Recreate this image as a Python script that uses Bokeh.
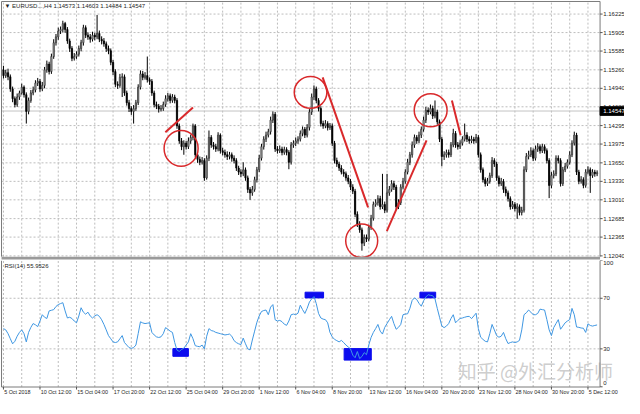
from bokeh.plotting import figure
from bokeh.layouts import column
from bokeh.models import Range1d, Label, ColumnDataSource
from bokeh.core.properties import value
from bokeh.embed import file_html
from bokeh.resources import INLINE

# ---------------- data (EURUSD H4) ----------------
first_open = 1.1526
closes = [
    1.1516, 1.1521, 1.1514, 1.1493, 1.1476, 1.1466, 1.1479, 1.1486, 1.1496, 1.1483,
    1.1454, 1.1473, 1.1486, 1.1491, 1.1503, 1.1506, 1.1493, 1.1499, 1.1526, 1.1536,
    1.1523, 1.1549, 1.1573, 1.1583, 1.1593, 1.1596, 1.1606, 1.1596, 1.1576, 1.1563,
    1.1546, 1.1549, 1.1553, 1.1563, 1.1573, 1.1599, 1.1586, 1.1583, 1.1579, 1.1586,
    1.1583, 1.1589, 1.1579, 1.1576, 1.1571, 1.1563, 1.1559, 1.1539, 1.1523, 1.1501,
    1.1499, 1.1513, 1.1514, 1.1486, 1.1469, 1.1459, 1.1454, 1.1459, 1.1469, 1.1496,
    1.1519, 1.1513, 1.1516, 1.1509, 1.1506, 1.1486, 1.1466, 1.1463, 1.1458, 1.1459,
    1.1466, 1.1476, 1.1481, 1.1473, 1.1479, 1.1473, 1.1429, 1.1403, 1.1393, 1.1399,
    1.1393, 1.1403, 1.1409, 1.1429, 1.1379, 1.1371, 1.1366, 1.1369, 1.1339, 1.1373,
    1.1409, 1.1396, 1.1393, 1.1389, 1.1413, 1.1386, 1.1383, 1.1379, 1.1376, 1.1379,
    1.1373, 1.1369, 1.1356, 1.1349, 1.1346, 1.1353, 1.1339, 1.1319, 1.1313, 1.1319,
    1.1336, 1.1353, 1.1373, 1.1393, 1.1406, 1.1413, 1.1419, 1.1439, 1.1449, 1.1389,
    1.1386, 1.1389, 1.1383, 1.1388, 1.1383, 1.1366, 1.1396, 1.1399, 1.1403, 1.1406,
    1.1416, 1.1423, 1.1413, 1.1426, 1.1453, 1.1479, 1.1493, 1.1473, 1.1459, 1.1433,
    1.1429, 1.1433, 1.1426, 1.1429, 1.1399, 1.1369, 1.1363, 1.1356, 1.1349, 1.1346,
    1.1339, 1.1333, 1.1323, 1.1316, 1.1276, 1.1259, 1.1249, 1.1226, 1.1236, 1.1233,
    1.1253, 1.1269, 1.1293, 1.1296, 1.1303, 1.1289, 1.1293, 1.1283, 1.1313, 1.1319,
    1.1329, 1.1323, 1.1289, 1.1296, 1.1323, 1.1333, 1.1349, 1.1366, 1.1379, 1.1396,
    1.1409, 1.1403, 1.1413, 1.1423, 1.1439, 1.1456, 1.1453, 1.1459, 1.1446, 1.1453,
    1.1436, 1.1406, 1.1376, 1.1379, 1.1383, 1.1379, 1.1396, 1.1416, 1.1396, 1.1393,
    1.1399, 1.1406, 1.1413, 1.1406, 1.1403, 1.1406, 1.1403, 1.1409, 1.1379, 1.1353,
    1.1336, 1.1329, 1.1333, 1.1343, 1.1369, 1.1363, 1.1339, 1.1329, 1.1333, 1.1319,
    1.1313, 1.1303, 1.1289, 1.1293, 1.1286, 1.1289, 1.1279, 1.1283, 1.1353, 1.1376,
    1.1379, 1.1386, 1.1373, 1.1389, 1.1393, 1.1386, 1.1393, 1.1386, 1.1369, 1.1326,
    1.1343, 1.1346, 1.1373, 1.1369, 1.1329, 1.1353, 1.1359, 1.1366, 1.1379, 1.1399,
    1.1413, 1.1349, 1.1333, 1.1336, 1.1326, 1.1349, 1.1353, 1.1343, 1.1349, 1.1346,
    1.1348]
highs = [
    1.1533, 1.1526, 1.1528, 1.1518, 1.1497, 1.1480, 1.1485, 1.1490, 1.1502, 1.1499,
    1.1487, 1.1478, 1.1491, 1.1497, 1.1508, 1.1512, 1.1510, 1.1505, 1.1531, 1.1542,
    1.1540, 1.1554, 1.1579, 1.1588, 1.1599, 1.1601, 1.1611, 1.1609, 1.1600, 1.1580,
    1.1567, 1.1555, 1.1558, 1.1568, 1.1578, 1.1604, 1.1603, 1.1591, 1.1588, 1.1592,
    1.1590, 1.1621, 1.1594, 1.1584, 1.1581, 1.1575, 1.1568, 1.1563, 1.1543, 1.1527,
    1.1506, 1.1519, 1.1520, 1.1518, 1.1490, 1.1474, 1.1463, 1.1465, 1.1474, 1.1501,
    1.1525, 1.1524, 1.1522, 1.1549, 1.1513, 1.1510, 1.1490, 1.1471, 1.1467, 1.1465,
    1.1471, 1.1482, 1.1486, 1.1485, 1.1484, 1.1483, 1.1477, 1.1433, 1.1408, 1.1404,
    1.1403, 1.1409, 1.1414, 1.1433, 1.1432, 1.1384, 1.1376, 1.1375, 1.1373, 1.1378,
    1.1421, 1.1413, 1.1401, 1.1398, 1.1418, 1.1416, 1.1391, 1.1388, 1.1385, 1.1384,
    1.1383, 1.1378, 1.1373, 1.1360, 1.1354, 1.1366, 1.1357, 1.1343, 1.1323, 1.1325,
    1.1341, 1.1358, 1.1379, 1.1398, 1.1411, 1.1419, 1.1424, 1.1445, 1.1454, 1.1453,
    1.1394, 1.1395, 1.1393, 1.1393, 1.1392, 1.1387, 1.1401, 1.1404, 1.1409, 1.1411,
    1.1421, 1.1428, 1.1427, 1.1432, 1.1458, 1.1485, 1.1499, 1.1497, 1.1477, 1.1463,
    1.1438, 1.1439, 1.1437, 1.1434, 1.1433, 1.1403, 1.1374, 1.1367, 1.1361, 1.1354,
    1.1350, 1.1344, 1.1337, 1.1328, 1.1320, 1.1281, 1.1264, 1.1253, 1.1241, 1.1241,
    1.1258, 1.1275, 1.1298, 1.1302, 1.1309, 1.1308, 1.1346, 1.1298, 1.1346, 1.1325,
    1.1335, 1.1334, 1.1327, 1.1302, 1.1328, 1.1339, 1.1354, 1.1372, 1.1384, 1.1402,
    1.1414, 1.1413, 1.1419, 1.1428, 1.1445, 1.1462, 1.1461, 1.1466, 1.1464, 1.1473,
    1.1457, 1.1440, 1.1410, 1.1385, 1.1388, 1.1388, 1.1401, 1.1424, 1.1420, 1.1401,
    1.1404, 1.1411, 1.1433, 1.1418, 1.1411, 1.1412, 1.1410, 1.1415, 1.1413, 1.1383,
    1.1357, 1.1340, 1.1339, 1.1348, 1.1375, 1.1373, 1.1367, 1.1343, 1.1339, 1.1337,
    1.1324, 1.1317, 1.1307, 1.1299, 1.1297, 1.1295, 1.1293, 1.1289, 1.1359, 1.1382,
    1.1386, 1.1392, 1.1390, 1.1395, 1.1399, 1.1397, 1.1398, 1.1397, 1.1390, 1.1373,
    1.1349, 1.1352, 1.1378, 1.1378, 1.1373, 1.1358, 1.1365, 1.1371, 1.1385, 1.1404,
    1.1419, 1.1417, 1.1353, 1.1342, 1.1340, 1.1354, 1.1359, 1.1357, 1.1354, 1.1353,
    1.1352]
lows = [
    1.1511, 1.1512, 1.1508, 1.1488, 1.1470, 1.1461, 1.1462, 1.1474, 1.1483, 1.1478,
    1.1433, 1.1449, 1.1469, 1.1482, 1.1487, 1.1498, 1.1488, 1.1489, 1.1494, 1.1521,
    1.1518, 1.1519, 1.1545, 1.1568, 1.1578, 1.1588, 1.1591, 1.1590, 1.1571, 1.1557,
    1.1541, 1.1542, 1.1545, 1.1549, 1.1558, 1.1568, 1.1581, 1.1578, 1.1573, 1.1575,
    1.1577, 1.1579, 1.1574, 1.1570, 1.1566, 1.1557, 1.1553, 1.1534, 1.1517, 1.1496,
    1.1493, 1.1495, 1.1479, 1.1481, 1.1464, 1.1453, 1.1448, 1.1433, 1.1455, 1.1465,
    1.1492, 1.1508, 1.1509, 1.1504, 1.1500, 1.1481, 1.1461, 1.1458, 1.1452, 1.1454,
    1.1455, 1.1462, 1.1471, 1.1468, 1.1469, 1.1468, 1.1424, 1.1398, 1.1387, 1.1379,
    1.1388, 1.1389, 1.1398, 1.1404, 1.1374, 1.1365, 1.1361, 1.1362, 1.1334, 1.1336,
    1.1368, 1.1391, 1.1388, 1.1384, 1.1385, 1.1381, 1.1378, 1.1374, 1.1370, 1.1371,
    1.1367, 1.1364, 1.1351, 1.1344, 1.1340, 1.1342, 1.1334, 1.1313, 1.1301, 1.1308,
    1.1315, 1.1331, 1.1349, 1.1369, 1.1388, 1.1401, 1.1409, 1.1414, 1.1434, 1.1384,
    1.1381, 1.1382, 1.1378, 1.1379, 1.1378, 1.1354, 1.1362, 1.1391, 1.1394, 1.1398,
    1.1402, 1.1411, 1.1408, 1.1409, 1.1421, 1.1448, 1.1474, 1.1468, 1.1454, 1.1428,
    1.1424, 1.1425, 1.1421, 1.1422, 1.1394, 1.1364, 1.1358, 1.1351, 1.1345, 1.1341,
    1.1334, 1.1328, 1.1318, 1.1311, 1.1271, 1.1254, 1.1244, 1.1213, 1.1221, 1.1228,
    1.1229, 1.1249, 1.1265, 1.1289, 1.1291, 1.1284, 1.1285, 1.1278, 1.1279, 1.1308,
    1.1315, 1.1318, 1.1284, 1.1285, 1.1292, 1.1319, 1.1329, 1.1345, 1.1361, 1.1374,
    1.1391, 1.1398, 1.1399, 1.1408, 1.1419, 1.1434, 1.1448, 1.1449, 1.1441, 1.1442,
    1.1431, 1.1401, 1.1359, 1.1370, 1.1374, 1.1374, 1.1375, 1.1392, 1.1391, 1.1388,
    1.1389, 1.1395, 1.1402, 1.1401, 1.1398, 1.1399, 1.1398, 1.1399, 1.1374, 1.1348,
    1.1331, 1.1324, 1.1325, 1.1329, 1.1339, 1.1358, 1.1334, 1.1324, 1.1325, 1.1313,
    1.1307, 1.1298, 1.1284, 1.1285, 1.1281, 1.1268, 1.1274, 1.1274, 1.1279, 1.1349,
    1.1371, 1.1375, 1.1368, 1.1369, 1.1384, 1.1381, 1.1382, 1.1381, 1.1364, 1.1304,
    1.1321, 1.1338, 1.1342, 1.1364, 1.1324, 1.1325, 1.1349, 1.1355, 1.1362, 1.1375,
    1.1395, 1.1344, 1.1328, 1.1329, 1.1321, 1.1322, 1.1345, 1.1313, 1.1339, 1.1341,
    1.1342]
rsi = [
    46, 45, 42, 38, 34, 36, 40, 43, 45, 42,
    35.5, 43, 47, 50, 49, 47.6, 52, 57, 55, 54,
    60, 60.5, 61, 63.5, 65, 65.8, 66.5, 60, 54.4, 55,
    54, 52, 50.6, 56, 62.5, 59, 57.4, 59, 56, 54.4,
    56, 57, 55.7, 53, 49.3, 45, 40.5, 38, 35.5, 35,
    35.5, 38, 40.5, 35, 33, 31, 30.4, 31, 33, 42,
    51.4, 50.5, 50, 50.3, 50.6, 43, 41, 39.5, 39, 39.5,
    42, 46.8, 45.5, 44, 43, 35, 29, 28, 29.5, 30.5,
    33, 35.5, 42, 38, 32.5, 32, 31.7, 33, 30, 40,
    46, 44.5, 44, 43, 42.5, 42, 41.5, 41, 41.3, 41.7,
    40, 36.5, 35, 34, 33.4, 38.5, 34, 30, 29.2, 37,
    44, 51, 56, 59.5, 60.3, 60.7, 57, 63, 65, 53,
    52, 52.5, 51.5, 49.5, 48.6, 52, 57, 57.5, 57, 58.2,
    64.5, 61, 58, 62, 67, 69.5, 71.3, 65.8, 58, 54.4,
    53.5, 53.1, 50.6, 43, 39.5, 37.5, 36.5, 35.5, 36.7, 35,
    33, 31.5, 30, 25, 23, 27.9, 22.3, 24, 27, 25.4,
    33, 39, 43, 46, 49.3, 44, 41.7, 47, 50, 53,
    55.7, 50, 45.5, 47, 49.3, 57, 57.5, 57.7, 62, 68.3,
    70.3, 69, 66, 63.7, 68, 71, 72.8, 72.3, 72, 69.5,
    62, 55, 48, 46.8, 48, 50, 54, 57, 50.6, 52.5,
    54, 54.4, 55, 55.5, 55.7, 53.9, 56, 58.2, 46, 39.2,
    37.5, 36, 35.5, 42, 49.3, 45, 40.5, 39.2, 40, 43,
    38, 34.2, 35, 35.5, 35, 35.5, 36.7, 45, 57, 58.5,
    60.7, 59, 57, 57, 58, 61.4, 61, 60.7, 53.1, 45,
    40.5, 46.8, 50, 53.1, 45.5, 48, 50.6, 52, 53.1, 62,
    57, 47.3, 47, 46.5, 46.3, 43, 49.8, 48.5, 48, 48.5,
    48.9]

price_ticks = [1.12040, 1.12365, 1.12685, 1.13010, 1.13330, 1.13650, 1.13975,
               1.14295, 1.14620, 1.14940, 1.15260, 1.15585, 1.15905, 1.16225]
rsi_levels = [70, 30]
time_tick_bars = [0, 16, 32, 48, 64, 80, 96, 112, 128, 144, 160, 176, 192, 208, 224, 240, 256]
time_tick_labels = ["5 Oct 2018", "10 Oct 12:00", "15 Oct 04:00", "17 Oct 20:00",
                    "22 Oct 12:00", "25 Oct 04:00", "29 Oct 20:00", "1 Nov 12:00",
                    "6 Nov 04:00", "8 Nov 20:00", "13 Nov 12:00", "16 Nov 04:00",
                    "20 Nov 20:00", "23 Nov 12:00", "28 Nov 04:00", "30 Nov 20:00",
                    "5 Dec 12:00"]
grid_bars = list(range(0, 262, 8))
bid_price = 1.14547
title_text = "\u25bc EURUSD...,H4  1.14573 1.14603 1.14484 1.14547"
rsi_title = "RSI(14) 55.9526"
watermark = "知乎 @外汇分析师"

# hand-drawn annotations (bar index / price) and RSI highlight boxes (bar index / RSI)
circle_bar = [77.8, 134.5, 156.9, 187.1]
circle_price = [1.1390, 1.1487, 1.1230, 1.1456]
circle_w = [14.9, 14.3, 14.0, 14.4]
circle_h = [0.0062, 0.0055, 0.0058, 0.0057]
trend_x0 = [70.9, 139.8, 167.9, 196.4]
trend_y0 = [1.1418, 1.1513, 1.1247, 1.1473]
trend_x1 = [83.0, 159.7, 185.3, 200.2]
trend_y1 = [1.1461, 1.1288, 1.1404, 1.1413]
box_left = [74.2, 132.1, 149.2, 182.4]
box_right = [81.0, 140.2, 161.1, 189.3]
box_bottom = [24.1, 70.3, 21.1, 70.3]
box_top = [30.2, 74.8, 30.2, 74.8]

# ---------------- layout constants ----------------
FONT = "Liberation Sans"
FS = "6px"
FS_TIME = "5.4px"
TXT = "#1e1e1e"
RED = "#d9292b"
GRID = "#bdbdbd"
BORDER = "#7a7a7a"
W = 624
X0, CHART_L, CHART_R, X_END = -1.3, -0.85, 261.3, 272.0
P_BOT, P_SEP_BOT, P_CHART_BOT, P_CHART_TOP, P_TOP = 1.11960, 1.11977, 1.12027, 1.16443, 1.16460
R_BOT, R_LINE, R_TOP = -9.24, -0.15, 99.85
BID_HALF = 0.00075

bars = list(range(len(closes)))
opens = [first_open] + closes[:-1]
up_idx = [i for i in bars if closes[i] >= opens[i]]
dn_idx = [i for i in bars if closes[i] < opens[i]]
src_up = ColumnDataSource(dict(x=up_idx, top=[closes[i] for i in up_idx],
                               bottom=[opens[i] for i in up_idx]))
src_dn = ColumnDataSource(dict(x=dn_idx, top=[opens[i] for i in dn_idx],
                               bottom=[closes[i] for i in dn_idx]))

x_range = Range1d(X0, X_END)


def base_fig(height, y_range):
    f = figure(width=W, height=height, output_backend="svg", toolbar_location=None,
               tools="", x_range=x_range, y_range=y_range,
               x_axis_location=None, y_axis_location=None, min_border=0)
    f.grid.grid_line_color = None
    f.outline_line_color = None
    f.background_fill_color = "white"
    f.border_fill_color = "white"
    return f


# ---------------- price panel ----------------
p = base_fig(260, Range1d(P_BOT, P_TOP))
n_pt = len(price_ticks)
p.segment(x0=[CHART_L] * n_pt, x1=[CHART_R] * n_pt, y0=price_ticks, y1=price_ticks,
          line_color=GRID, line_dash="2 2", line_width=1)
p.segment(x0=grid_bars, x1=grid_bars, y0=[P_CHART_BOT] * len(grid_bars),
          y1=[P_CHART_TOP] * len(grid_bars), line_color=GRID, line_dash="2 2", line_width=1)
p.segment(x0=[CHART_L], x1=[CHART_R], y0=[bid_price], y1=[bid_price],
          line_color="#c4c4c4", line_width=1)

p.segment(x0=bars, y0=highs, x1=bars, y1=lows, line_color="black", line_width=1)
p.vbar(x="x", width=0.55, top="top", bottom="bottom", source=src_up,
       fill_color="#b8b8b8", line_color="#2a2a2a", line_width=0.7)
p.vbar(x="x", width=0.55, top="top", bottom="bottom", source=src_dn,
       fill_color="black", line_color="black", line_width=0.7)

p.segment(x0=trend_x0, y0=trend_y0, x1=trend_x1, y1=trend_y1, line_color=RED, line_width=2)
p.ellipse(x=circle_bar, y=circle_price, width=circle_w, height=circle_h,
          fill_color=None, line_color=RED, line_width=1.5)

# chart border, separator band, price scale
p.segment(x0=[CHART_L, CHART_R, CHART_L], x1=[CHART_L, CHART_R, CHART_R],
          y0=[P_CHART_BOT, P_CHART_BOT, P_CHART_TOP], y1=[P_CHART_TOP, P_CHART_TOP, P_CHART_TOP],
          line_color=BORDER, line_width=1)
p.quad(left=[CHART_L], right=[CHART_R], bottom=[P_SEP_BOT], top=[P_CHART_BOT],
       fill_color="#9a9a9a", line_color=None)
p.segment(x0=[CHART_R] * n_pt, x1=[CHART_R + 1.1] * n_pt, y0=price_ticks, y1=price_ticks,
          line_color="#555555", line_width=1)
p.text(x=[CHART_R + 1.4] * n_pt, y=price_ticks, text=[f"{t:.5f}" for t in price_ticks],
       text_font=value(FONT), text_font_size=FS, text_color=TXT,
       text_baseline="middle", text_align="left")
p.quad(left=[CHART_R], right=[X_END], bottom=[bid_price - BID_HALF], top=[bid_price + BID_HALF],
       fill_color="black", line_color="black")
p.text(x=[CHART_R + 1.4], y=[bid_price], text=[f"{bid_price:.5f}"],
       text_font=value(FONT), text_font_size=FS, text_color="white",
       text_baseline="middle", text_align="left")

p.add_layout(Label(x=4, x_units="screen", y=P_CHART_TOP, y_offset=-2, text=title_text,
                   text_font=FONT, text_font_size=FS, text_color=TXT,
                   text_baseline="top", text_align="left"))

# ---------------- RSI panel ----------------
p2 = base_fig(138, Range1d(R_BOT, R_TOP))
p2.segment(x0=[CHART_L] * 2, x1=[CHART_R] * 2, y0=rsi_levels, y1=rsi_levels,
           line_color=GRID, line_dash="2 2", line_width=1)
p2.segment(x0=grid_bars, x1=grid_bars, y0=[R_LINE] * len(grid_bars),
           y1=[R_TOP] * len(grid_bars), line_color=GRID, line_dash="2 2", line_width=1)

p2.add_layout(Label(x=199.0, y=12.7, text=watermark, text_font="Noto Sans CJK SC",
                    text_font_size="19px", text_color="#c8c8c8", text_alpha=0.9,
                    text_baseline="middle", text_align="left", level="underlay"))

p2.quad(left=box_left, right=box_right, bottom=box_bottom, top=box_top,
        fill_color="#0c0cee", line_color="#0c0cee")
p2.line(bars, rsi, line_color="#3f97e2", line_width=1)

p2.segment(x0=[CHART_L, CHART_R, CHART_L], x1=[CHART_L, CHART_R, CHART_R],
           y0=[R_LINE, R_LINE, R_LINE], y1=[R_TOP, R_TOP, R_LINE],
           line_color=BORDER, line_width=1)
rsi_marks = [100, 70, 30, 0]
p2.segment(x0=[CHART_R] * 4, x1=[CHART_R + 1.1] * 4, y0=[R_TOP, 70, 30, 0], y1=[R_TOP, 70, 30, 0],
           line_color="#555555", line_width=1)
p2.text(x=[CHART_R + 1.4], y=[R_TOP], text=[str(rsi_marks[0])], text_font=value(FONT),
        text_font_size=FS, text_color=TXT, text_baseline="top", text_align="left")
p2.text(x=[CHART_R + 1.4] * 2, y=rsi_marks[1:3], text=[str(v) for v in rsi_marks[1:3]],
        text_font=value(FONT), text_font_size=FS, text_color=TXT,
        text_baseline="middle", text_align="left")
p2.text(x=[CHART_R + 1.4], y=[rsi_marks[3] + 1.5], text=[str(rsi_marks[3])], text_font=value(FONT),
        text_font_size=FS, text_color=TXT, text_baseline="bottom", text_align="left")

n_tt = len(time_tick_bars)
p2.segment(x0=time_tick_bars, x1=time_tick_bars, y0=[R_LINE] * n_tt, y1=[R_LINE - 2.0] * n_tt,
           line_color="#555555", line_width=1)
p2.text(x=[b + 0.3 for b in time_tick_bars], y=[R_LINE - 1.8] * n_tt, text=time_tick_labels,
        text_font=value(FONT), text_font_size=FS_TIME, text_color=TXT,
        text_baseline="top", text_align="left")

p2.add_layout(Label(x=4, x_units="screen", y=R_TOP, y_offset=-2, text=rsi_title,
                    text_font=FONT, text_font_size=FS, text_color=TXT,
                    text_baseline="top", text_align="left"))

layout = column(p, p2)
open("out.html", "w").write(file_html(layout, INLINE))
